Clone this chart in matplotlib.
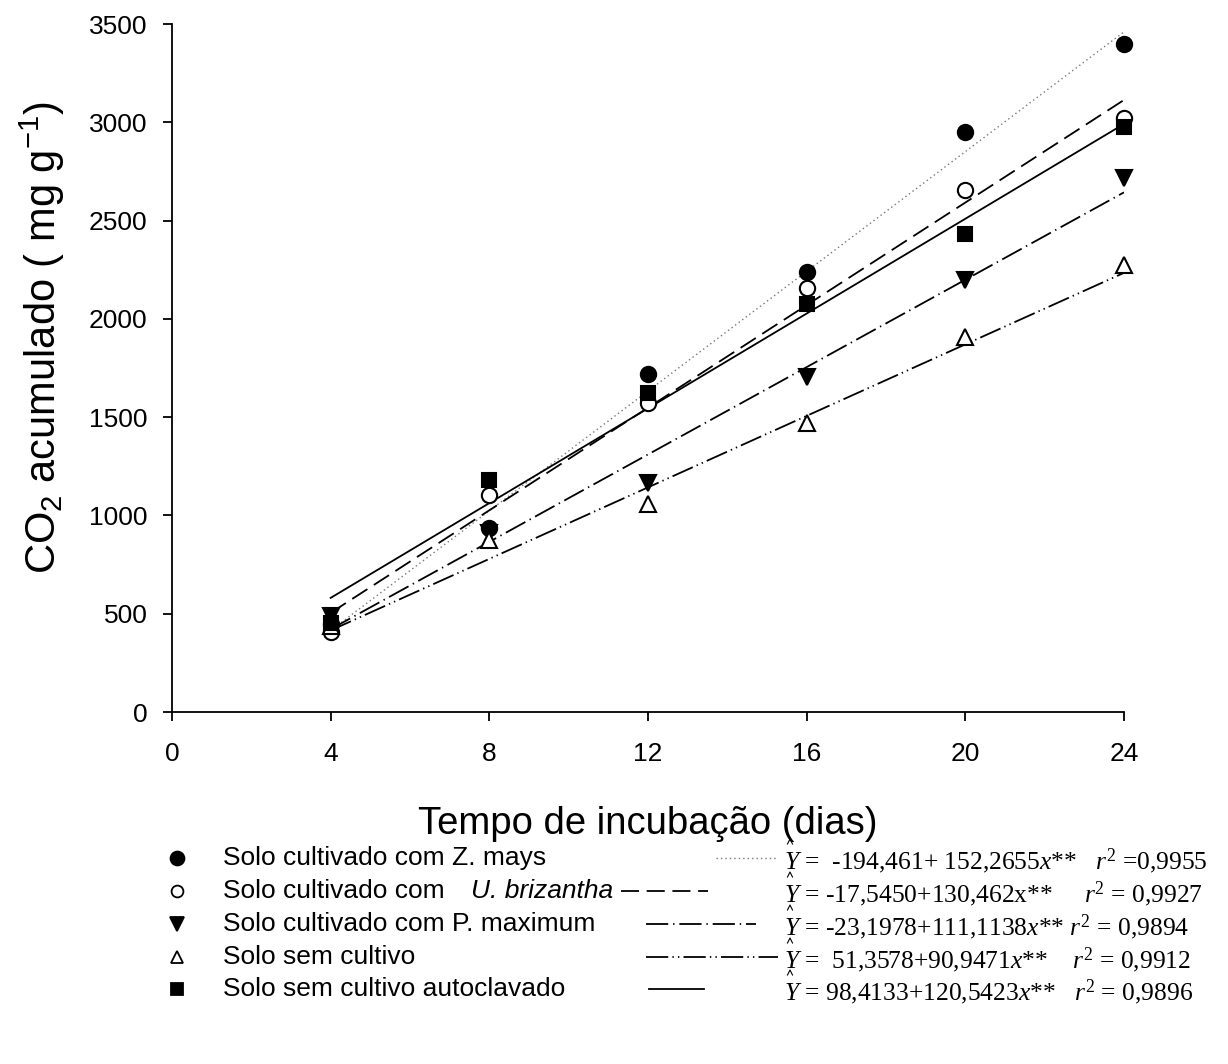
import matplotlib
matplotlib.use("Agg")
import matplotlib.pyplot as plt
from matplotlib.lines import Line2D
import numpy as np

plt.rcParams['font.family'] = ['Liberation Sans', 'DejaVu Sans']
plt.rcParams['mathtext.fontset'] = 'custom'
plt.rcParams['mathtext.rm'] = 'Liberation Serif'
plt.rcParams['mathtext.it'] = 'Liberation Serif:italic'
plt.rcParams['mathtext.default'] = 'regular'
plt.rcParams['lines.scale_dashes'] = False

# ---- data ----
dias = [4, 8, 12, 16, 20, 24]
z_mays = [450, 936, 1718, 2237, 2949, 3397]
u_brizantha = [407, 1104, 1570, 2155, 2656, 3020]
p_maximum = [488, 910, 1163, 1706, 2198, 2715]
sem_cultivo = [440, 875, 1060, 1469, 1909, 2274]
autoclavado = [453, 1180, 1621, 2074, 2432, 2978]

# regression coefficients (intercept, slope) printed in the chart
intercepts = [-194.461, -17.5450, -23.1978, 51.3578, 98.4133]
slopes = [152.2655, 130.462, 111.1138, 90.9471, 120.5423]
fit_range = [4, 24]

series = [z_mays, u_brizantha, p_maximum, sem_cultivo, autoclavado]
labels = ["Solo cultivado com Z. mays", "Solo cultivado com", "Solo cultivado com P. maximum",
          "Solo sem cultivo", "Solo sem cultivo autoclavado"]
equations = [
    r"$\mathit{Y}$ =  -194,461+ 152,2655$\mathit{x}$**   $\mathit{r}^2$ =0,9955",
    r"$\mathit{Y}$ = -17,5450+130,462x**     $\mathit{r}^2$ = 0,9927",
    r"$\mathit{Y}$ = -23,1978+111,1138$\mathit{x}$** $\mathit{r}^2$ = 0,9894",
    r"$\mathit{Y}$ =  51,3578+90,9471$\mathit{x}$**    $\mathit{r}^2$ = 0,9912",
    r"$\mathit{Y}$ = 98,4133+120,5423$\mathit{x}$**   $\mathit{r}^2$ = 0,9896",
]

# ---- styles ----
markers = ['o', 'o', 'v', '^', 's']
mfc = ['black', 'white', 'black', 'white', 'black']
msizes = [11, 11, 11.5, 11.5, 10]
line_styles = [
    dict(linestyle=(0, (1.0, 2.2)), color='#777777', lw=1.0),
    dict(linestyle=(0, (13, 5.5)), color='black', lw=1.3),
    dict(linestyle=(0, (16, 3.5, 1, 3.5)), color='black', lw=1.3),
    dict(linestyle=(0, (16, 3, 1, 3, 1, 3)), color='black', lw=1.3),
    dict(linestyle='-', color='black', lw=1.3),
]

W, H = 1228, 1064
fig = plt.figure(figsize=(W / 100, H / 100), dpi=100)
ax = fig.add_axes([172 / W, 1 - 712 / H, (1124 - 172) / W, (712 - 24) / H])

xf = np.array(fit_range, dtype=float)
for i in range(5):
    ax.plot(xf, intercepts[i] + slopes[i] * xf, **line_styles[i], zorder=2)
for i in range(5):
    ax.plot(dias, series[i], linestyle='none', marker=markers[i], ms=msizes[i],
            mfc=mfc[i], mec='black', mew=1.5, zorder=3, clip_on=False)

ax.set_xlim(0, 24)
ax.set_ylim(0, 3500)
ax.set_xticks([0, 4, 8, 12, 16, 20, 24])
ax.set_yticks(np.arange(0, 3501, 500))
for s in ['top', 'right']:
    ax.spines[s].set_visible(False)
for s in ['left', 'bottom']:
    ax.spines[s].set_linewidth(1.3)
ax.tick_params(axis='both', direction='out', length=6.5, width=1.3, labelsize=19)
ax.tick_params(axis='y', pad=11)
ax.tick_params(axis='x', pad=15)

ax.set_xlabel("Tempo de incubação (dias)", fontsize=27.5, labelpad=29)
ax.set_ylabel(r"CO$_2$ acumulado ( mg g$^{-1}$)", fontsize=30, labelpad=16, y=0.545)

# ---- custom legend ----
def fx(px):
    return px / W

def fy(py):
    return 1 - py / H

rows_y = [858, 891, 924, 957, 989]
sample_x = [(716, 776), (621, 708), (646, 756), (646, 778), (649, 704)]
eq_x = 784
leg_ms = [10, 8.5, 10, 9, 9]

for i in range(5):
    y = rows_y[i]
    fig.add_artist(Line2D([fx(177)], [fy(y)], transform=fig.transFigure, marker=markers[i],
                          ms=leg_ms[i], mfc=mfc[i], mec='black', mew=1.3, linestyle='none'))
    fig.text(fx(223), fy(y), labels[i], fontsize=19, va='center', ha='left')
    if i == 1:
        fig.text(fx(471), fy(y), "U. brizantha", fontsize=19, va='center', ha='left', style='italic')
    x0, x1 = sample_x[i]
    fig.add_artist(Line2D([fx(x0), fx(x1)], [fy(y), fy(y)], transform=fig.transFigure,
                          **line_styles[i]))
    fig.text(fx(eq_x), fy(y + 3), equations[i], fontsize=18.4, va='center', ha='left',
             family='Liberation Serif')
    # small circumflex above Y
    hx, hy = eq_x + 6, y - 17
    fig.add_artist(Line2D([fx(hx - 2.5), fx(hx), fx(hx + 2.5)], [fy(hy + 3), fy(hy - 2), fy(hy + 3)],
                          transform=fig.transFigure, color='black', lw=0.8))

fig.savefig("out.png", dpi=100)
